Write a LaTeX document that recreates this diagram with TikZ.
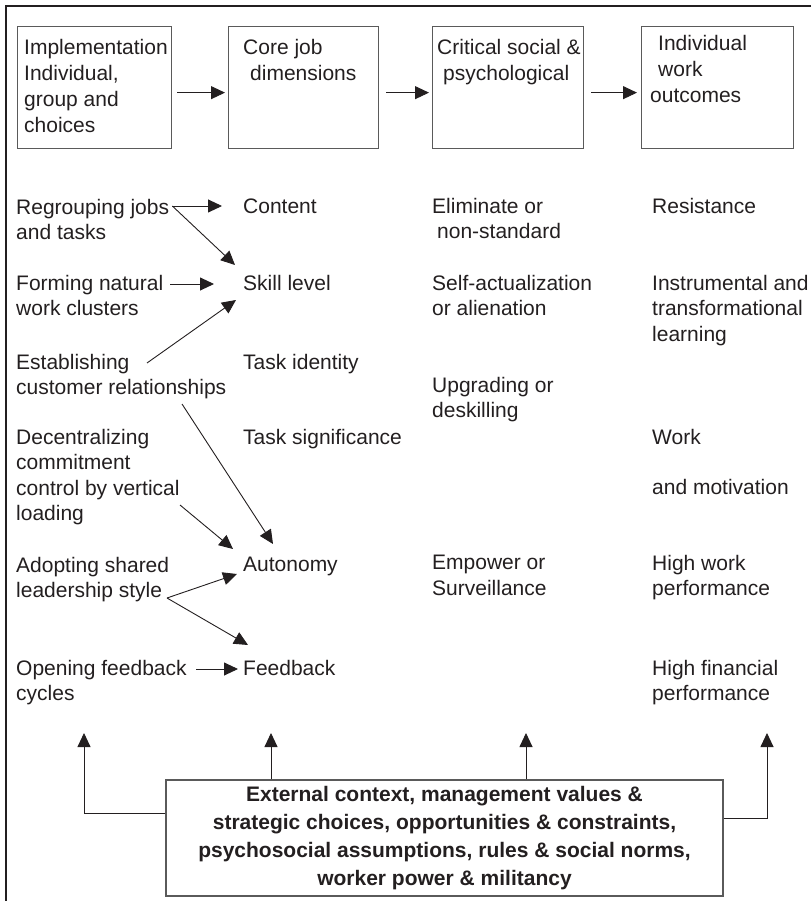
\documentclass[tikz,border=0pt]{standalone}
\usepackage{fontspec}
\setmainfont{Liberation Sans}
\usetikzlibrary{arrows.meta}
\definecolor{ink}{HTML}{231F20}
\definecolor{edge}{HTML}{5A5A5A}
\begin{document}
\begin{tikzpicture}[x=1pt,y=-1pt,
  txt/.style={anchor=north west, inner sep=0pt, align=left, text=ink,
              font=\fontsize{21}{25.5}\selectfont},
  boxtxt/.style={txt, font=\fontsize{21}{26}\selectfont},
  stage/.style={draw=edge, line width=1.3pt, anchor=north west,
                minimum width=#1, minimum height=122pt, inner sep=0pt},
  arr/.style={draw=ink, line width=0.9pt, -{Triangle[length=14pt,width=13pt]}},
  context/.style={draw=edge, line width=1.3pt, minimum width=557pt,
                  minimum height=116pt, inner sep=0pt, align=center, text=ink,
                  font=\bfseries\fontsize{21}{28}\selectfont}]
\useasboundingbox (0,0) rectangle (811,901);

% open frame: top and left rules
\draw[ink, line width=1.6pt] (811,6) -- (6,6) -- (6,901);

% the four stage boxes
\node[stage=154pt] (b1) at (17,26) {};
\node[stage=150pt] (b2) at (228,26) {};
\node[stage=151pt] (b3) at (432,26) {};
\node[stage=152pt] (b4) at (641,26) {};

\node[boxtxt] (t1) at (24,39) {Implementation\\Individual,\\group and\\choices};
\node[boxtxt] (t2) at (243,39) {Core job\\\hspace*{7pt}dimensions};
\node[boxtxt] (t3) at (437,39) {Critical social \&\\\hspace*{6pt}psychological};
\node[boxtxt] (t4) at (650,35) {\hspace*{8pt}Individual\\\hspace*{8pt}work\\outcomes};

\draw[arr] ([shift={(5,5)}]b1.east) -- ([shift={(-3,5)}]b2.west);
\draw[arr] ([shift={(7,5)}]b2.east) -- ([shift={(-3,5)}]b3.west);
\draw[arr] ([shift={(7,5)}]b3.east) -- ([shift={(-4,5)}]b4.west);

% implementation choices
\node[txt] (r1) at (16,199) {Regrouping jobs\\and tasks};
\node[txt] (r2) at (16,275) {Forming natural\\work clusters};
\node[txt] (r3) at (16,354) {Establishing\\customer relationships};
\node[txt] (r4) at (16,429) {Decentralizing\\commitment\\control by vertical\\loading};
\node[txt] (r5) at (16,557) {Adopting shared\\leadership style};
\node[txt] (r6) at (16,660) {Opening feedback\\cycles};

% core job dimensions
\node[txt] (c1) at (243,199) {Content};
\node[txt] (c2) at (243,275) {Skill level};
\node[txt] (c3) at (243,354) {Task identity};
\node[txt] (c4) at (243,429) {Task significance};
\node[txt] (c5) at (243,557) {Autonomy};
\node[txt] (c6) at (243,660) {Feedback};

% critical social and psychological states
\node[txt] (e1) at (432,198) {Eliminate or\\\hspace*{5pt}non-standard};
\node[txt] (e2) at (432,275) {Self-actualization\\or alienation};
\node[txt] (e3) at (432,377) {Upgrading or\\deskilling};
\node[txt] (e4) at (432,555) {Empower or\\Surveillance};

% individual work outcomes
\node[txt] (o1) at (652,198) {Resistance};
\node[txt] (o2) at (652,275) {Instrumental and\\transformational\\learning};
\node[txt] (o3) at (652,429) {Work\\[24.5pt]and motivation};
\node[txt] (o4) at (652,555) {High work\\performance};
\node[txt] (o5) at (652,660) {High financial\\performance};

% links from choices to job dimensions
\draw[arr] ([shift={(3,7)}]r1.north east) -- ([shift={(-21,7)}]c1.north west);
\draw[arr] ([shift={(3,7)}]r1.north east) -- ([shift={(-8,-10)}]c2.north west);
\draw[arr] ([shift={(7,9)}]r2.north east) -- ([shift={(-29,9)}]c2.north west);
\draw[arr] ([shift={(131,9)}]r3.north west) -- ([shift={(-7,25)}]c2.north west);
\draw[arr] ([shift={(166,50)}]r3.north west) -- ([shift={(30,-13)}]c5.north west);
\draw[arr] ([shift={(164,76)}]r4.north west) -- ([shift={(-10,-8)}]c5.north west);
\draw[arr] ([shift={(151,41)}]r5.north west) -- ([shift={(-6,17)}]c5.north west);
\draw[arr] ([shift={(151,41)}]r5.north west) -- ([shift={(5,-15)}]c6.north west);
\draw[arr] ([shift={(180,9)}]r6.north west) -- ([shift={(-5,9)}]c6.north west);

% context box feeding every column
\node[context] (ext) at (444.5,838) {External context, management values \&\\strategic choices, opportunities \& constraints,\\psychosocial assumptions, rules \& social norms,\\worker power \& militancy};

\coordinate (uL) at (84,733);
\coordinate (uA) at (271,733);
\coordinate (uB) at (526,733);
\coordinate (uR) at (767,733);
\draw[arr] ([shift={(0,-25)}]ext.west) -| (uL);
\draw[arr] (ext.north -| uA) -- (uA);
\draw[arr] (ext.north -| uB) -- (uB);
\draw[arr] ([shift={(0,-20)}]ext.east) -| (uR);
\end{tikzpicture}
\end{document}
